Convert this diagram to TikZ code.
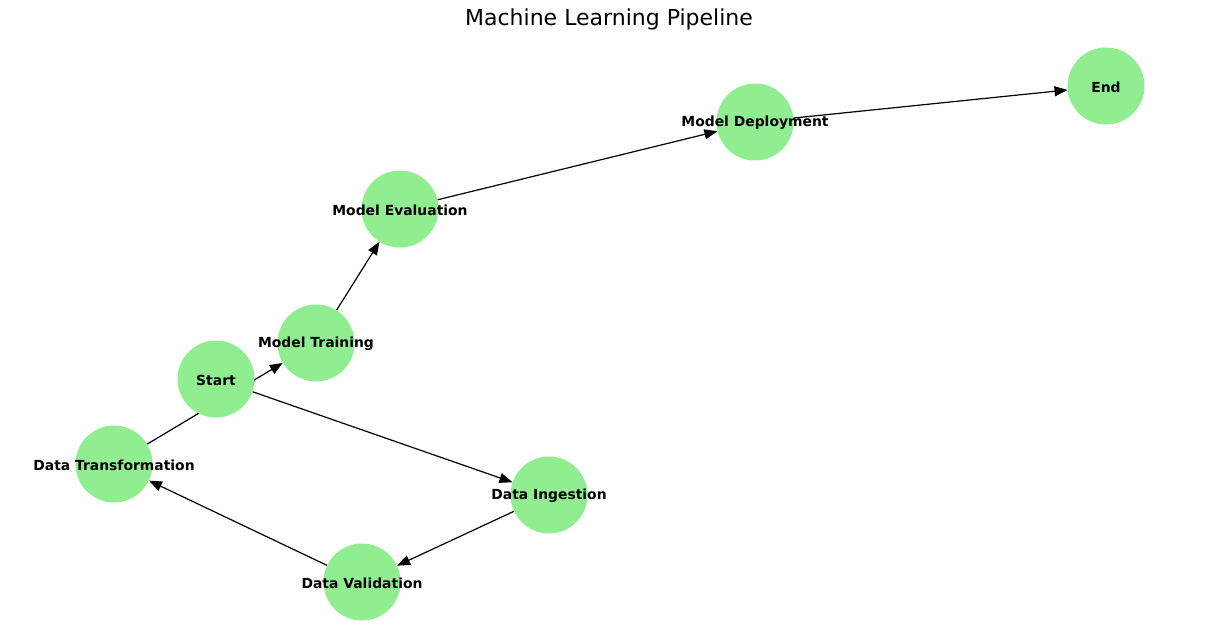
\documentclass[tikz,border=0pt]{standalone}
\usepackage{fontspec}
\setmainfont{DejaVu Sans}
\usetikzlibrary{arrows.meta,backgrounds}
\definecolor{lightgreen}{HTML}{90EE90}

\begin{document}
\begin{tikzpicture}[x=1pt,y=-1pt,-{Triangle[length=13pt,width=10pt]}]
  \tikzstyle{stage} = [circle,fill=lightgreen,minimum size=77pt,inner sep=0pt,
    label={[font=\fontsize{13.9}{16}\selectfont\bfseries,yshift=-1pt]center:#1}]
  \tikzstyle{flow} = [line width=1.2pt]
  \useasboundingbox (0,0) rectangle (1220,644);
  \node [font=\fontsize{22}{26}\selectfont] (title) at (609,19) {Machine Learning Pipeline};

  \node [stage=Start] (start) at (216,379) {};
  \node [stage=Data Ingestion] (ingest) at (549,495) {};
  \node [stage=Data Validation] (valid) at (362,582) {};
  \node [stage=Data Transformation] (transf) at (114,464) {};
  \node [stage=Model Training] (train) at (316,343) {};
  \node [stage=Model Evaluation] (eval) at (400,209) {};
  \node [stage=Model Deployment] (deploy) at (755,122) {};
  \node [stage=End] (finish) at (1106,86) {};

  \begin{pgfonlayer}{background}
    \draw [flow] (start) -- (ingest);
    \draw [flow] (ingest) -- (valid);
    \draw [flow] (valid) -- (transf);
    \draw [flow] (transf) -- (train);
    \draw [flow] (train) -- (eval);
    \draw [flow] (eval) -- (deploy);
    \draw [flow] (deploy) -- (finish);
  \end{pgfonlayer}

\end{tikzpicture}
\end{document}
